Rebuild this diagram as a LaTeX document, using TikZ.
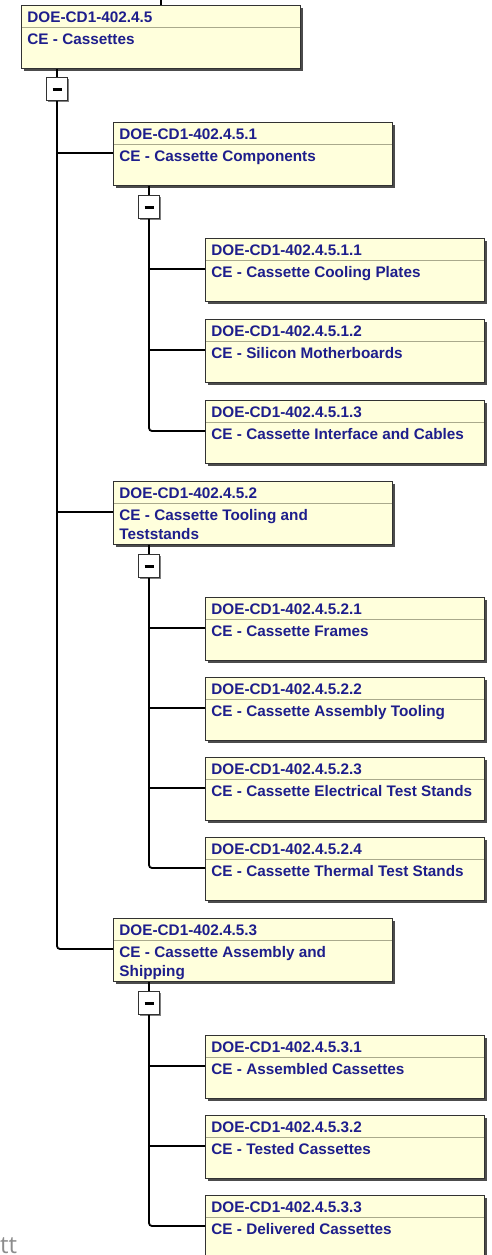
\documentclass[tikz,border=0pt]{standalone}
\usepackage{fontspec}
\setmainfont{Liberation Sans}
\newfontfamily\cornerfont{Open Sans}
\usetikzlibrary{shadows,positioning}
\definecolor{wbsfill}{RGB}{255,255,220}
\definecolor{wbsline}{RGB}{170,170,140}
\definecolor{wbstext}{RGB}{30,30,140}
\definecolor{wbsedge}{RGB}{50,50,50}

\begin{document}
\begin{tikzpicture}[x=1pt, y=-1pt,
  wbs/.style={draw=wbsedge, line width=0.9pt, fill=wbsfill, anchor=north west, inner sep=6pt,
    text=wbstext, font=\fontsize{15.3}{19}\selectfont\bfseries,
    drop shadow={shadow xshift=2.5pt, shadow yshift=-2.5pt, fill=black!70, opacity=1},
    path picture={\draw[wbsline, line width=0.9pt] ([yshift=-22pt]path picture bounding box.north west) -- ([yshift=-22pt]path picture bounding box.north east);},
    execute at begin node={\begin{minipage}[t][51pt][t]{267pt}\raggedright},
    execute at end node={\end{minipage}}},
  toggle/.style={draw=wbsedge, line width=1pt, fill=white, minimum width=21pt, minimum height=23pt, inner sep=0pt,
    drop shadow={shadow xshift=1.5pt, shadow yshift=-1.5pt, fill=black!50, opacity=1}},
  wire/.style={line width=1.8pt, black}]
\useasboundingbox (0,0) rectangle (491,1255);
\clip (0,0) rectangle (491,1255);

\node[wbs] (root) at (21,5) {DOE-CD1-402.4.5\\[3pt]CE - Cassettes};
\node[toggle] (col0) at (57,89) {\rule{9pt}{3pt}};

\node[wbs] (c1) at (113,122) {DOE-CD1-402.4.5.1\\[3pt]CE - Cassette Components};
\node[toggle] (col1) at (149,207) {\rule{9pt}{3pt}};
\node[wbs] (c11) at (205,238) {DOE-CD1-402.4.5.1.1\\[3pt]CE - Cassette Cooling Plates};
\node[wbs] (c12) at (205,319) {DOE-CD1-402.4.5.1.2\\[3pt]CE - Silicon Motherboards};
\node[wbs] (c13) at (205,400) {DOE-CD1-402.4.5.1.3\\[3pt]CE - Cassette Interface and Cables};

\node[wbs] (c2) at (113,481) {DOE-CD1-402.4.5.2\\[3pt]CE - Cassette Tooling and\\Teststands};
\node[toggle] (col2) at (149,566) {\rule{9pt}{3pt}};
\node[wbs] (c21) at (205,597) {DOE-CD1-402.4.5.2.1\\[3pt]CE - Cassette Frames};
\node[wbs] (c22) at (205,677) {DOE-CD1-402.4.5.2.2\\[3pt]CE - Cassette Assembly Tooling};
\node[wbs] (c23) at (205,757) {DOE-CD1-402.4.5.2.3\\[3pt]CE - Cassette Electrical Test Stands};
\node[wbs] (c24) at (205,837) {DOE-CD1-402.4.5.2.4\\[3pt]CE - Cassette Thermal Test Stands};

\node[wbs] (c3) at (113,918) {DOE-CD1-402.4.5.3\\[3pt]CE - Cassette Assembly and\\Shipping};
\node[toggle] (col3) at (149,1003) {\rule{9pt}{3pt}};
\node[wbs] (c31) at (205,1035) {DOE-CD1-402.4.5.3.1\\[3pt]CE - Assembled Cassettes};
\node[wbs] (c32) at (205,1115) {DOE-CD1-402.4.5.3.2\\[3pt]CE - Tested Cassettes};
\node[wbs] (c33) at (205,1195) {DOE-CD1-402.4.5.3.3\\[3pt]CE - Delivered Cassettes};

\foreach \b in {c1,c11,c12,c13,c2,c21,c22,c23,c24,c3,c31,c32,c33}
  \coordinate (\b in) at ([yshift=-31pt]\b.north west);

\draw[wire] (root.north) -- ++(0,-6);
\draw[wire] (root.south -| col0.north) -- (col0.north);
\draw[wire, rounded corners=3pt] (col0.south) |- (c3in);
\draw[wire] (col0 |- c1in) -- (c1in);
\draw[wire] (col0 |- c2in) -- (c2in);

\draw[wire] (c1.south -| col1.north) -- (col1.north);
\draw[wire, rounded corners=3pt] (col1.south) |- (c13in);
\draw[wire] (col1 |- c11in) -- (c11in);
\draw[wire] (col1 |- c12in) -- (c12in);

\draw[wire] (c2.south -| col2.north) -- (col2.north);
\draw[wire, rounded corners=3pt] (col2.south) |- (c24in);
\foreach \b in {c21,c22,c23}
  \draw[wire] (col2 |- \b in) -- (\b in);

\draw[wire] (c3.south -| col3.north) -- (col3.north);
\draw[wire, rounded corners=3pt] (col3.south) |- (c33in);
\draw[wire] (col3 |- c31in) -- (c31in);
\draw[wire] (col3 |- c32in) -- (c32in);

\node[anchor=base west, inner sep=0pt, text=black!45, font=\cornerfont\fontsize{24}{24}\selectfont] (tt) at (0,1253) {tt};
\end{tikzpicture}
\end{document}
